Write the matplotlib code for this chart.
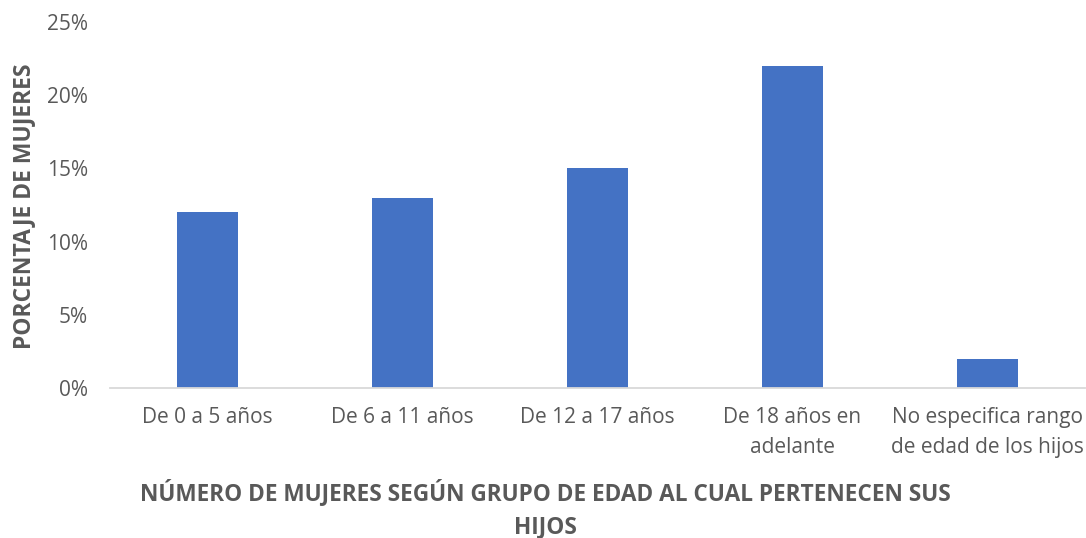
import matplotlib.pyplot as plt
import numpy as np

categorias = ['De 0 a 5 años', 'De 6 a 11 años', 'De 12 a 17 años',
              'De 18 años en\nadelante', 'No especifica rango\nde edad de los hijos']
porcentajes = [12, 13, 15, 22, 2]
yticks = [0, 5, 10, 15, 20, 25]

gris = '#595959'
plt.rcParams['font.family'] = ['Open Sans', 'DejaVu Sans']

fig = plt.figure(figsize=(10.86, 5.38), dpi=100)
ax = fig.add_axes([110 / 1086, 1 - 388 / 538, 975 / 1086, 366 / 538])

x = np.arange(len(categorias))
ax.bar(x, porcentajes, width=0.313, color='#4472C4', zorder=2)

ax.set_xlim(-0.5, len(categorias) - 0.5)
ax.set_ylim(0, 25)
ax.set_yticks(yticks)
ax.set_yticklabels([f'{v}%' for v in yticks])
ax.set_xticks(x)
ax.set_xticklabels(categorias, linespacing=1.55)

for s in ['top', 'right', 'left']:
    ax.spines[s].set_visible(False)
ax.spines['bottom'].set_color('#D9D9D9')
ax.spines['bottom'].set_linewidth(1.3)
ax.tick_params(axis='both', length=0, colors=gris, labelsize=15)
ax.tick_params(axis='x', pad=14)
ax.tick_params(axis='y', pad=16)

fig.text(24 / 1086, 1 - 206 / 538, 'PORCENTAJE DE MUJERES', rotation=90,
         ha='center', va='center', fontsize=16.5, fontweight='bold', color=gris)
fig.text(545 / 1086, 1 - 509 / 538,
         'NÚMERO DE MUJERES SEGÚN GRUPO DE EDAD AL CUAL PERTENECEN SUS\nHIJOS',
         ha='center', va='center', fontsize=16.3, fontweight='bold', color=gris,
         linespacing=1.45)

fig.savefig('out.png', dpi=100)
